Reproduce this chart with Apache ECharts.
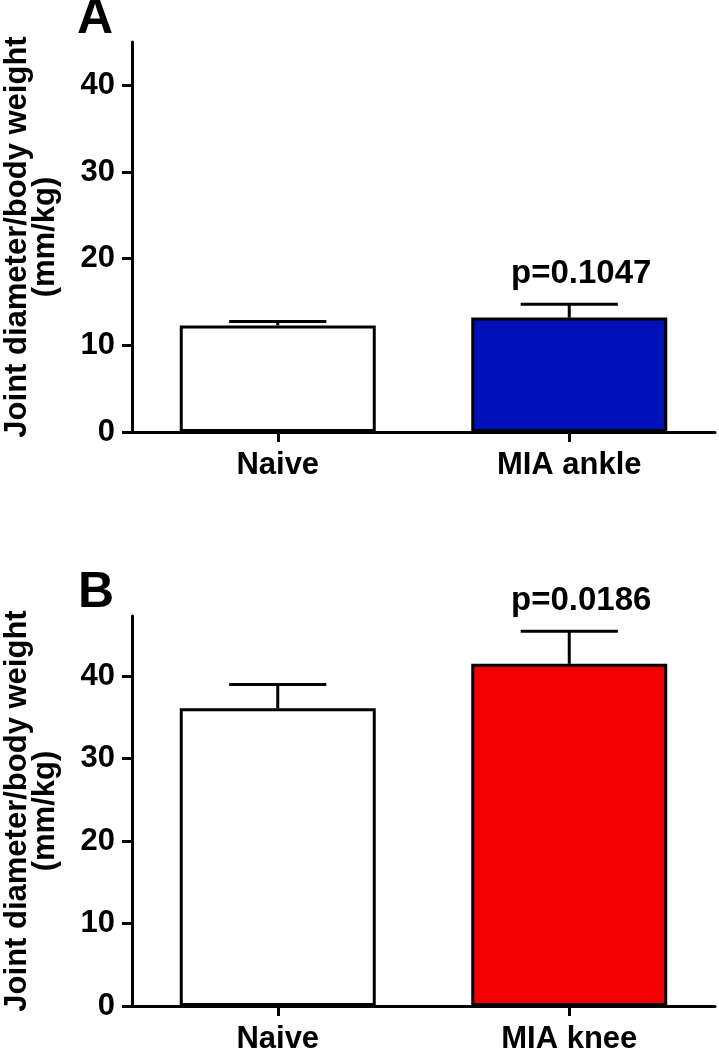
<!DOCTYPE html>
<html>
<head>
<meta charset="utf-8">
<script src="https://cdn.jsdelivr.net/npm/echarts@6/dist/echarts.min.js"></script>
<style>
  html, body { margin: 0; padding: 0; background: #fff; }
  #chart { width: 719px; height: 1051px; }
</style>
</head>
<body>
<div id="chart"></div>
<script>
// ---- data ----
const categoriesA = ['Naive', 'MIA ankle'];
const meansA = [12.3, 13.2];
const semA = [0.45, 1.55];
const pLabelsA = ['', 'p=0.1047'];

const categoriesB = ['Naive', 'MIA knee'];
const meansB = [36.1, 41.5];
const semB = [2.9, 3.95];
const pLabelsB = ['', 'p=0.0186'];

const yTicks = [0, 10, 20, 30, 40];
const yMaxA = 45;
const yMaxB = 47.3;
const yTitle = 'Joint diameter/body weight\n(mm/kg)';
const panelLetters = ['A', 'B'];

// ---- chart ----
const FONT = '"Liberation Sans", Arial, sans-serif';
const chart = echarts.init(document.getElementById('chart'), null, { renderer: 'canvas' });

function xAxisFor(cats, gridIndex) {
  return {
    type: 'category', gridIndex, data: cats,
    axisLine: { show: true, lineStyle: { color: '#000', width: 3 } },
    axisTick: { show: true, alignWithLabel: true, length: 10, lineStyle: { color: '#000', width: 3 } },
    axisLabel: { color: '#000', fontFamily: FONT, fontWeight: 'bold', fontSize: 31, margin: 18 },
    splitLine: { show: false }
  };
}
function yAxisFor(max, gridIndex) {
  return {
    type: 'value', gridIndex, min: 0, max, interval: 10,
    name: yTitle, nameLocation: 'middle', nameRotate: 90, nameGap: 73,
    nameTextStyle: { color: '#000', fontFamily: FONT, fontWeight: 'bold', fontSize: 31, lineHeight: 28 },
    axisLine: { show: true, lineStyle: { color: '#000', width: 3 } },
    axisTick: { show: true, length: 10, lineStyle: { color: '#000', width: 3 }, customValues: yTicks },
    axisLabel: { color: '#000', fontFamily: FONT, fontWeight: 'bold', fontSize: 31, margin: 17, customValues: yTicks },
    splitLine: { show: false }
  };
}
function barSeries(means, idx, fillColors) {
  return {
    type: 'bar', xAxisIndex: idx, yAxisIndex: idx, data: means, barWidth: 196,
    itemStyle: {
      borderColor: '#000', borderWidth: 3,
      color: (p) => fillColors[p.dataIndex]
    },
    silent: true, z: 2
  };
}
function errSeries(means, sems, labels, idx) {
  return {
    type: 'custom', xAxisIndex: idx, yAxisIndex: idx, z: 3, silent: true,
    data: means.map((m, i) => [i, m, sems[i]]),
    renderItem: function (params, api) {
      const i = api.value(0), m = api.value(1), e = api.value(2);
      const base = api.coord([i, m]);
      const top = api.coord([i, m + e]);
      const half = api.size([1, 0])[0] / 6;
      const children = [
        { type: 'line', shape: { x1: top[0], y1: base[1], x2: top[0], y2: top[1] }, style: { stroke: '#000', lineWidth: 3 } },
        { type: 'line', shape: { x1: top[0] - half, y1: top[1], x2: top[0] + half, y2: top[1] }, style: { stroke: '#000', lineWidth: 3 } }
      ];
      const lbl = labels[params.dataIndex];
      if (lbl) {
        children.push({
          type: 'text', x: top[0] + 12, y: top[1] - 14,
          style: { text: lbl, fill: '#000', fontFamily: FONT, fontWeight: 'bold', fontSize: 33, align: 'center', verticalAlign: 'bottom' }
        });
      }
      return { type: 'group', children };
    }
  };
}

chart.setOption({
  animation: false,
  backgroundColor: '#fff',
  grid: [
    { left: 132, right: 4, top: 42, bottom: 619, containLabel: false, outerBoundsMode: 'none' },
    { left: 132, right: 4, top: 616, bottom: 45, containLabel: false, outerBoundsMode: 'none' }
  ],
  xAxis: [xAxisFor(categoriesA, 0), xAxisFor(categoriesB, 1)],
  yAxis: [yAxisFor(yMaxA, 0), yAxisFor(yMaxB, 1)],
  graphic: [
    { type: 'text', left: 77, top: -6, style: { text: panelLetters[0], fill: '#000', fontFamily: FONT, fontWeight: 'bold', fontSize: 50 } },
    { type: 'text', left: 78, top: 568, style: { text: panelLetters[1], fill: '#000', fontFamily: FONT, fontWeight: 'bold', fontSize: 50 } }
  ],
  series: [
    barSeries(meansA, 0, ['#FFFFFF', '#0010B8']),
    errSeries(meansA, semA, pLabelsA, 0),
    barSeries(meansB, 1, ['#FFFFFF', '#F00000']),
    errSeries(meansB, semB, pLabelsB, 1)
  ]
});
</script>
</body>
</html>
